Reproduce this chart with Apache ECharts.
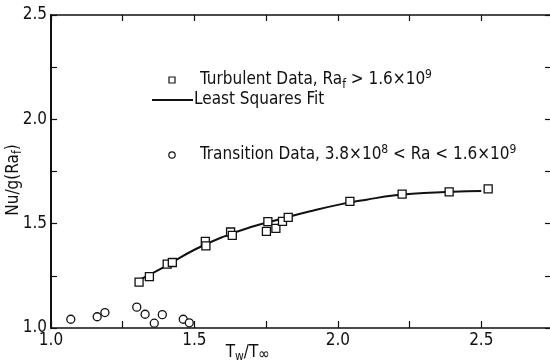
<!DOCTYPE html>
<html>
<head>
<meta charset="utf-8">
<script src="https://cdn.jsdelivr.net/npm/echarts@6/dist/echarts.min.js"></script>
<style>
  html, body { margin: 0; padding: 0; background: #fff; }
  #chart { width: 550px; height: 364px; }
</style>
</head>
<body>
<div id="chart"></div>
<script>
// Turbulent data (squares)
const turbulentX = [1.307, 1.343, 1.405, 1.423, 1.538, 1.540, 1.626, 1.632, 1.756, 1.751, 1.784, 1.807, 1.827, 2.042, 2.224, 2.388, 2.524];
const turbulentY = [1.220, 1.246, 1.306, 1.314, 1.415, 1.394, 1.460, 1.444, 1.510, 1.463, 1.477, 1.511, 1.530, 1.607, 1.642, 1.652, 1.667];

// Transition data (circles)
const transitionX = [1.069, 1.161, 1.188, 1.299, 1.328, 1.360, 1.388, 1.461, 1.482];
const transitionY = [1.042, 1.054, 1.074, 1.100, 1.066, 1.023, 1.064, 1.042, 1.025];

// Least squares fit
const fitX = [1.30, 1.40, 1.50, 1.60, 1.70, 1.80, 1.90, 2.00, 2.10, 2.20, 2.30, 2.40, 2.50];
const fitY = [1.225, 1.297, 1.375, 1.437, 1.485, 1.522, 1.558, 1.590, 1.615, 1.636, 1.647, 1.653, 1.656];

const xTickLabels = ['1.0', '1.5', '2.0', '2.5'];
const yTickLabels = ['1.0', '1.5', '2.0', '2.5'];

const FONT = "'Liberation Sans Narrow', 'DejaVu Sans Condensed', 'Liberation Sans', sans-serif";
const BLACK = '#111';

const pick = (labels) => (v) => {
  const s = v.toFixed(1);
  const half = Math.abs(v * 2 - Math.round(v * 2)) < 1e-6;
  return half && labels.includes(s) ? s : '';
};

const subSup = {
  sub: { fontSize: 12, fontFamily: FONT, lineHeight: 12, verticalAlign: 'bottom', fill: BLACK },
  big: { fontSize: 16, fontFamily: FONT, lineHeight: 14, verticalAlign: 'bottom', fill: BLACK },
  sup: { fontSize: 12, fontFamily: FONT, lineHeight: 12, verticalAlign: 'top', fill: BLACK },
};

const tickStyle = (len) => ({ show: true, inside: true, length: len, lineStyle: { color: BLACK, width: 1.2 } });

const chart = echarts.init(document.getElementById('chart'));

chart.setOption({
  animation: false,
  backgroundColor: '#fff',
  grid: { left: 51, top: 15, width: 502, height: 313, outerBoundsMode: 'none', containLabel: false },
  xAxis: [
    {
      type: 'value', position: 'bottom', min: 1, max: 2.75, interval: 0.25,
      axisLine: { show: true, lineStyle: { color: BLACK, width: 1.5 } },
      axisTick: tickStyle(7),
      axisLabel: { formatter: pick(xTickLabels), color: BLACK, fontSize: 17, fontFamily: FONT, margin: 4 },
      splitLine: { show: false },
    },
    {
      type: 'value', position: 'top', min: 1, max: 2.75, interval: 0.25,
      axisLine: { show: true, lineStyle: { color: BLACK, width: 1.5 } },
      axisTick: tickStyle(6),
      axisLabel: { show: false },
      splitLine: { show: false },
    },
  ],
  yAxis: [
    {
      type: 'value', position: 'left', min: 1, max: 2.5, interval: 0.25,
      axisLine: { show: true, lineStyle: { color: BLACK, width: 2 } },
      axisTick: tickStyle(6),
      axisLabel: { formatter: pick(yTickLabels), color: BLACK, fontSize: 17, fontFamily: FONT, margin: 4 },
      splitLine: { show: false },
    },
    {
      type: 'value', position: 'right', min: 1, max: 2.5, interval: 0.25,
      axisLine: { show: true, lineStyle: { color: BLACK, width: 1.5 } },
      axisTick: tickStyle(8),
      axisLabel: { show: false },
      splitLine: { show: false },
    },
  ],
  series: [
    {
      name: 'Least Squares Fit',
      type: 'line',
      data: fitX.map((x, i) => [x, fitY[i]]),
      smooth: true,
      showSymbol: false,
      lineStyle: { color: BLACK, width: 2 },
      z: 2,
    },
    {
      name: 'Turbulent Data',
      type: 'scatter',
      symbol: 'rect',
      symbolSize: 8,
      data: turbulentX.map((x, i) => [x, turbulentY[i]]),
      itemStyle: { color: '#fff', borderColor: BLACK, borderWidth: 1.3, opacity: 1 },
      z: 3,
    },
    {
      name: 'Transition Data',
      type: 'scatter',
      symbol: 'circle',
      symbolSize: 8,
      data: transitionX.map((x, i) => [x, transitionY[i]]),
      itemStyle: { color: '#fff', borderColor: BLACK, borderWidth: 1.3, opacity: 1 },
      z: 3,
    },
  ],
  graphic: [
    // legend
    { type: 'rect', shape: { x: 169, y: 77, width: 6, height: 6 }, style: { fill: '#fff', stroke: BLACK, lineWidth: 1.2 } },
    { type: 'line', shape: { x1: 152, y1: 100, x2: 193, y2: 100 }, style: { stroke: BLACK, lineWidth: 2 } },
    { type: 'circle', shape: { cx: 172, cy: 155, r: 3.2 }, style: { fill: '#fff', stroke: BLACK, lineWidth: 1.2 } },
    {
      type: 'text', x: 200, y: 80,
      style: {
        text: 'Turbulent Data, Ra{sub|f} > 1.6×10{sup|9}',
        fontSize: 17, fontFamily: FONT, fill: BLACK, lineHeight: 22, verticalAlign: 'middle', rich: subSup,
      },
    },
    {
      type: 'text', x: 194, y: 100,
      style: { text: 'Least Squares Fit', fontSize: 17, fontFamily: FONT, fill: BLACK, verticalAlign: 'middle' },
    },
    {
      type: 'text', x: 200, y: 155,
      style: {
        text: 'Transition Data, 3.8×10{sup|8} < Ra < 1.6×10{sup|9}',
        fontSize: 17, fontFamily: FONT, fill: BLACK, lineHeight: 22, verticalAlign: 'middle', rich: subSup,
      },
    },
    // axis titles
    {
      type: 'text', x: 248, y: 353,
      style: {
        text: 'T{sub|w}/T{big|∞}',
        fontSize: 17, fontFamily: FONT, fill: BLACK, lineHeight: 20, align: 'center', verticalAlign: 'middle', rich: subSup,
      },
    },
    {
      type: 'text', x: 14, y: 180, rotation: Math.PI / 2,
      style: {
        text: 'Nu/g(Ra{sub|f})',
        fontSize: 17, fontFamily: FONT, fill: BLACK, lineHeight: 20, align: 'center', verticalAlign: 'middle', rich: subSup,
      },
    },
  ],
});
</script>
</body>
</html>
